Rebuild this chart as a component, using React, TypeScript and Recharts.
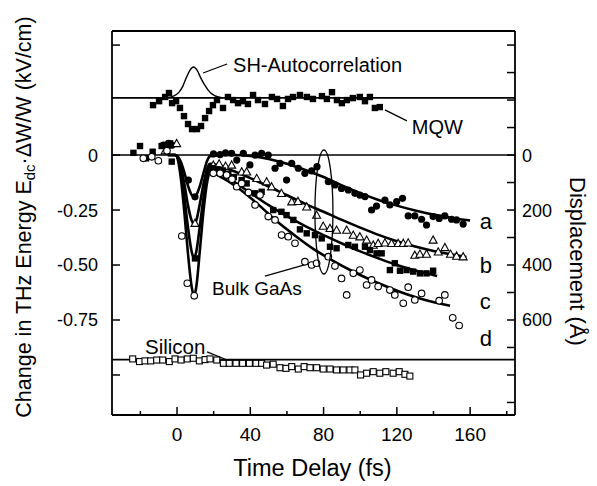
import React from 'react';
import { ComposedChart, Line, Scatter, XAxis, YAxis, ReferenceLine } from 'recharts';

const FONT = '"Liberation Sans", Arial, Helvetica, sans-serif';

// axes
const X_DOMAIN: [number, number] = [-35.5, 184.5];
const Y_DOMAIN: [number, number] = [-1.182, 0.564];
const xTicks = [-20, 0, 20, 40, 60, 80, 100, 120, 140, 160, 180];
const xLabelled = [0, 40, 80, 120, 160];
const leftTicks = [0.5, 0, -0.25, -0.5, -0.75, -1];
const leftLabels: Record<string, string> = { '0': '0', '-0.25': '-0.25', '-0.5': '-0.50', '-0.75': '-0.75' };
const rightTicks = [0.5, 0.375, 0.25, 0.125, 0, -0.125, -0.25, -0.375, -0.5, -0.625, -0.75, -0.875, -1, -1.125];
const rightLabels: Record<string, string> = { '0': '0', '-0.25': '200', '-0.5': '400', '-0.75': '600' };

// baselines of the three panels
const MQW_BASE = 0.26;
const ZERO_BASE = 0;
const SILICON_BASE = -0.93;

// [time (fs), value]
const shAutocorr = [
  [-6, 0.26], [-2, 0.268], [1, 0.285], [3, 0.31], [5, 0.35], [7, 0.385], [9, 0.4],
  [11, 0.385], [13, 0.35], [15, 0.32], [17, 0.295], [19, 0.278], [22, 0.265], [25, 0.26],
];

const mqw = [
  [-13.1, 0.227], [-9.8, 0.245], [-6.5, 0.264], [-4.4, 0.282], [-2.7, 0.236], [-0.5, 0.245],
  [1.6, 0.214], [3.8, 0.177], [6.0, 0.141], [8.2, 0.118], [10.9, 0.118], [13.1, 0.132],
  [15.3, 0.168], [17.5, 0.2], [19.6, 0.227], [21.8, 0.25], [25.1, 0.214], [27.8, 0.264],
  [30.6, 0.25], [33.3, 0.236], [36.0, 0.245], [38.7, 0.232], [41.5, 0.273], [44.2, 0.25],
  [48.0, 0.232], [51.8, 0.264], [54.6, 0.255], [57.8, 0.223], [60.6, 0.255], [63.3, 0.264],
  [67.1, 0.273], [70.9, 0.264], [74.2, 0.255], [79.1, 0.268], [81.8, 0.255], [84.6, 0.286],
  [87.3, 0.25], [90.0, 0.236], [92.7, 0.25], [96.0, 0.259], [99.8, 0.264], [102.6, 0.245],
  [105.3, 0.264], [108.0, 0.214], [110.7, 0.218],
];

// fitted curves a-d
const fitA = [
  [-5, 0], [-1, 0], [2, -0.03], [4, -0.08], [6, -0.14], [8, -0.182], [9.3, -0.19], [10.5, -0.182],
  [12.5, -0.14], [14.5, -0.08], [16.5, -0.025], [18, -0.005], [30, 0], [40, -0.004], [50, -0.018],
  [60, -0.04], [70, -0.068], [80, -0.1], [90, -0.138], [100, -0.173], [110, -0.204], [120, -0.23],
  [130, -0.252], [140, -0.271], [150, -0.286], [160, -0.298],
];
const fitB = [
  [-5, 0], [-1, 0], [2, -0.05], [4, -0.13], [6, -0.23], [8, -0.298], [9.3, -0.314], [10.5, -0.298],
  [12.5, -0.22], [14.5, -0.13], [16.5, -0.06], [18, -0.04], [30, -0.07], [40, -0.105], [50, -0.143],
  [60, -0.183], [70, -0.222], [80, -0.258], [90, -0.295], [100, -0.33], [110, -0.363], [120, -0.392],
  [130, -0.416], [140, -0.436], [150, -0.452], [158, -0.464],
];
const fitC = [
  [-5, 0], [-1, 0], [2, -0.07], [4, -0.19], [6, -0.33], [8, -0.44], [9.3, -0.468], [10.5, -0.44],
  [12.5, -0.32], [14.5, -0.19], [16.5, -0.09], [18, -0.058], [30, -0.115], [40, -0.172], [50, -0.228],
  [60, -0.278], [70, -0.323], [80, -0.364], [90, -0.402], [100, -0.438], [110, -0.47], [120, -0.5],
  [130, -0.525], [142, -0.55],
];
const fitD = [
  [-5, 0], [-1, 0], [2, -0.1], [4, -0.26], [6, -0.45], [8, -0.6], [9.3, -0.641], [10.5, -0.6],
  [12.5, -0.43], [14.5, -0.25], [16.5, -0.12], [18, -0.078], [25, -0.105], [35, -0.16], [45, -0.23],
  [55, -0.305], [65, -0.37], [75, -0.43], [85, -0.48], [95, -0.525], [105, -0.565], [115, -0.6],
  [125, -0.632], [135, -0.658], [149, -0.685],
];

// measured points a-d
const bulkA = [
  [-7.5, 0.045], [-4.7, 0.053], [-2.9, 0.045], [6.2, -0.114], [9.8, -0.19], [19.9, 0.005], [23.5, 0.002],
  [26.5, 0.01], [29.8, 0.008], [32.6, -0.023], [36.2, 0.008], [39.8, -0.045], [42.6, 0], [46.2, 0.008],
  [49.8, 0], [53.5, -0.06], [56.2, -0.038], [59.8, -0.114], [62.6, -0.038], [66.2, -0.06], [69.8, -0.083],
  [73.5, -0.072], [76.4, -0.053], [82.6, -0.121], [86.2, -0.136], [89.8, -0.152], [93.5, -0.159],
  [97.1, -0.174], [99.8, -0.182], [102.6, -0.189], [106.2, -0.25], [108.9, -0.232], [113.5, -0.205],
  [116.2, -0.227], [119.9, -0.212], [123.1, -0.197], [126.2, -0.277], [129.8, -0.277], [133.5, -0.292],
  [136.2, -0.318], [139.8, -0.28], [143.1, -0.288], [146.2, -0.277], [149.9, -0.292], [152.6, -0.295],
  [156.2, -0.314],
];
const bulkB = [
  [-6.5, 0.02], [-0.2, 0.053], [9.8, -0.31], [19.8, -0.045], [23, -0.04], [26.5, -0.05], [29.8, -0.045],
  [35.3, -0.076], [38, -0.076], [43.5, -0.106], [48.9, -0.121], [51.6, -0.144], [57, -0.174],
  [62.6, -0.212], [66, -0.21], [70.8, -0.235], [76.2, -0.273], [79.8, -0.323], [83.5, -0.333],
  [87.1, -0.341], [92.6, -0.341], [96.2, -0.364], [99.8, -0.371], [103.5, -0.386], [107.1, -0.409],
  [109.8, -0.401], [113.5, -0.399], [117.1, -0.401], [120.7, -0.401], [123.5, -0.401], [126.2, -0.399],
  [129.8, -0.455], [132.6, -0.45], [136.2, -0.45], [139.8, -0.386], [142.6, -0.44], [146.2, -0.42],
  [149.3, -0.45], [152.6, -0.459], [156.2, -0.462],
];
const bulkC = [
  [-23.8, 0.01], [-20.2, 0.041], [-16.9, -0.015], [-13.3, 0.015], [-8.4, 0.041], [-3.8, 0.053],
  [-2.9, -0.03], [9.8, -0.47], [19, -0.06], [22, -0.065], [25, -0.07], [28, -0.085], [31, -0.1],
  [35.3, -0.114], [38, -0.129], [42.6, -0.174], [46.2, -0.167], [52.5, -0.25], [57, -0.258],
  [59.8, -0.273], [63.5, -0.295], [67.1, -0.338], [70.8, -0.356], [75.3, -0.364], [79, -0.379],
  [83.5, -0.417], [87.1, -0.424], [93.5, -0.409], [97.1, -0.417], [102.6, -0.417], [105.3, -0.432],
  [108.9, -0.447], [111.7, -0.447], [116.2, -0.523], [118.9, -0.492], [121.7, -0.526], [125.3, -0.523],
  [128.9, -0.53], [132.6, -0.538], [136.2, -0.538], [139.8, -0.526],
];
const bulkD = [
  [-18.4, -0.015], [-13.8, -0.008], [-10.2, -0.026], [-5.5, 0.02], [2.6, -0.368], [5.6, -0.583],
  [9.4, -0.64], [19.8, -0.083], [23.5, -0.083], [27.1, -0.091], [30, -0.11], [32.6, -0.144],
  [35.3, -0.129], [39, -0.17], [42.6, -0.227], [45.3, -0.182], [49.8, -0.28], [53.5, -0.295],
  [57.1, -0.364], [60.7, -0.371], [64.4, -0.401], [69.8, -0.485], [73.5, -0.5], [76.2, -0.492],
  [82.6, -0.462], [86.2, -0.505], [89.8, -0.561], [92.6, -0.636], [96.2, -0.538], [99.8, -0.523],
  [103.5, -0.591], [106.2, -0.568], [109.8, -0.598], [116.2, -0.614], [118.9, -0.636], [123.5, -0.674],
  [126.2, -0.601], [129.8, -0.659], [133.5, -0.629], [143.1, -0.662], [146.2, -0.636], [150.5, -0.74],
  [154, -0.775],
];

const silicon = [
  [-24.2, -0.927], [-20.5, -0.939], [-17.5, -0.936], [-14.4, -0.936], [-11.1, -0.932], [-7.8, -0.932],
  [-4.2, -0.939], [-1.1, -0.927], [2.2, -0.932], [5.6, -0.927], [8.9, -0.924], [12.2, -0.936],
  [15.3, -0.93], [18, -0.927], [21.7, -0.932], [25.3, -0.947], [28.5, -0.947], [32.2, -0.947],
  [35.8, -0.947], [39.5, -0.947], [43.1, -0.947], [46.2, -0.947], [48.9, -0.955], [52.5, -0.951],
  [56.2, -0.967], [59.5, -0.97], [62.6, -0.962], [66.2, -0.973], [69.4, -0.962], [72.6, -0.967],
  [76.2, -0.967], [79.8, -0.973], [83.5, -0.973], [87.1, -0.977], [90.7, -0.977], [94.4, -0.977],
  [97.1, -0.977], [100.2, -1.0], [103.5, -0.992], [107.1, -0.985], [110.7, -0.992], [114, -0.985],
  [118, -0.992], [121.3, -0.985], [124.4, -0.997], [127.1, -1.005],
];

// annotations
const notes = [
  { t: 30.6, v: 0.409, text: 'SH-Autocorrelation', size: 20 },
  { t: 128.2, v: 0.127, text: 'MQW', size: 20 },
  { t: 19.1, v: -0.605, text: 'Bulk GaAs', size: 19 },
  { t: -17.5, v: -0.873, text: 'Silicon', size: 20.5 },
  { t: 165.3, v: -0.3, text: 'a', size: 22 },
  { t: 165.3, v: -0.5, text: 'b', size: 22 },
  { t: 165.3, v: -0.665, text: 'c', size: 22 },
  { t: 165.3, v: -0.83, text: 'd', size: 22 },
];
const leaders = [
  [[14.2, 0.373], [27.3, 0.414]],
  [[113.5, 0.205], [125.5, 0.155]],
  [[48, -0.55], [71.5, -0.495]],
  [[16.4, -0.895], [30, -0.941]],
];
const ellipseAt = [{ t: 80.2, v: -0.259 }];

const pts = (arr: number[][]) => arr.map(([t, v]) => ({ t, v }));

const LeftTick = (p: any) => {
  const { x, y, payload } = p;
  const label = leftLabels[String(payload.value)];
  return (
    <g>
      <line x1={x} x2={x + 8} y1={y} y2={y} stroke="#000" strokeWidth={1.5} />
      {label && (
        <text x={x - 14} y={y} dy="0.36em" textAnchor="end" fontSize={18} fontFamily={FONT} fill="#000">
          {label}
        </text>
      )}
    </g>
  );
};

const RightTick = (p: any) => {
  const { x, y, payload } = p;
  const label = rightLabels[String(payload.value)];
  return (
    <g>
      <line x1={x} x2={x - 8} y1={y} y2={y} stroke="#000" strokeWidth={1.5} />
      {label && (
        <text x={x + 7} y={y} dy="0.36em" textAnchor="start" fontSize={18} fontFamily={FONT} fill="#000">
          {label}
        </text>
      )}
    </g>
  );
};

const BottomTick = (p: any) => {
  const { x, y, payload } = p;
  const major = xLabelled.includes(payload.value);
  return (
    <g>
      <line x1={x} x2={x} y1={y} y2={y - (major ? 8 : 4)} stroke="#000" strokeWidth={1.5} />
      {major && (
        <text x={x} y={y + 26} textAnchor="middle" fontSize={19} fontFamily={FONT} fill="#000">
          {payload.value}
        </text>
      )}
    </g>
  );
};

const LeftTitle = (p: any) => {
  const vb = p.viewBox;
  const cx = vb.x + 24;
  const cy = vb.y + vb.height / 2 - 6;
  return (
    <text x={cx} y={cy} transform={`rotate(-90 ${cx} ${cy})`} textAnchor="middle" dominantBaseline="central"
      fontSize={21.5} fontFamily={FONT} fill="#000">
      Change in THz Energy E<tspan dy={5} fontSize={15}>dc</tspan>
      <tspan dy={-5}>·ΔW/W (kV/cm)</tspan>
    </text>
  );
};

const RightTitle = (p: any) => {
  const vb = p.viewBox;
  const cx = vb.x + 62;
  const cy = vb.y + vb.height * 0.6;
  return (
    <text x={cx} y={cy} transform={`rotate(90 ${cx} ${cy})`} textAnchor="middle" dominantBaseline="central"
      fontSize={22} fontFamily={FONT} fill="#000">
      Displacement (Å)
    </text>
  );
};

const BottomTitle = (p: any) => {
  const vb = p.viewBox;
  return (
    <text x={vb.x + vb.width / 2 - 1} y={vb.y + 61} textAnchor="middle" fontSize={23.5} fontFamily={FONT} fill="#000">
      Time Delay (fs)
    </text>
  );
};

const FilledCircle = (p: any) => <circle cx={p.cx} cy={p.cy} r={3.6} fill="#000" />;
const OpenCircle = (p: any) => <circle cx={p.cx} cy={p.cy} r={3.3} fill="#fff" stroke="#000" strokeWidth={1.1} />;
const OpenTriangle = (p: any) => {
  const s = 4;
  return (
    <polygon
      points={`${p.cx},${p.cy - s} ${p.cx - s},${p.cy + s * 0.8} ${p.cx + s},${p.cy + s * 0.8}`}
      fill="#fff" stroke="#000" strokeWidth={1.1}
    />
  );
};
const FilledSquare = (p: any) => <rect x={p.cx - 3.2} y={p.cy - 3.2} width={6.4} height={6.4} fill="#000" />;
const OpenSquare = (p: any) => (
  <rect x={p.cx - 3} y={p.cy - 3} width={6} height={6} fill="#fff" stroke="#000" strokeWidth={1.1} />
);
const NoteText = (p: any) => (
  <text x={p.cx} y={p.cy} dy="0.36em" fontSize={p.payload.size} fontFamily={FONT} fill="#000">
    {p.payload.text}
  </text>
);
const EllipseMark = (p: any) => (
  <ellipse cx={p.cx} cy={p.cy} rx={9} ry={62} fill="none" stroke="#000" strokeWidth={1.3} />
);

const fitLines = [fitA, fitB, fitC, fitD];

const App = () => {
  return (
    <div style={{ position: 'absolute', left: 0, top: 0, background: '#fff' }}>
      <ComposedChart width={597} height={486} margin={{ top: 31, right: 0, bottom: 0, left: 0 }}>
        <XAxis
          dataKey="t"
          type="number"
          domain={X_DOMAIN}
          allowDataOverflow
          ticks={xTicks}
          height={71}
          tickSize={0}
          tickMargin={0}
          tickLine={false}
          axisLine={{ stroke: '#000', strokeWidth: 1.8 }}
          tick={BottomTick}
          label={<BottomTitle />}
        />
        <YAxis
          yAxisId="left"
          dataKey="v"
          type="number"
          domain={Y_DOMAIN}
          allowDataOverflow
          ticks={leftTicks}
          width={112}
          tickSize={0}
          tickMargin={0}
          tickLine={false}
          axisLine={{ stroke: '#000', strokeWidth: 1.8 }}
          tick={LeftTick}
          label={<LeftTitle />}
        />
        <YAxis
          yAxisId="right"
          orientation="right"
          dataKey="v"
          type="number"
          domain={Y_DOMAIN}
          allowDataOverflow
          ticks={rightTicks}
          width={82}
          tickSize={0}
          tickMargin={0}
          tickLine={false}
          axisLine={{ stroke: '#000', strokeWidth: 1.8 }}
          tick={RightTick}
          label={<RightTitle />}
        />
        <ReferenceLine yAxisId="left" y={Y_DOMAIN[1]} stroke="#000" strokeWidth={2.2} />
        <ReferenceLine yAxisId="left" y={MQW_BASE} stroke="#000" strokeWidth={1.6} />
        <ReferenceLine yAxisId="left" y={ZERO_BASE} stroke="#000" strokeWidth={1.4} />
        <ReferenceLine yAxisId="left" y={SILICON_BASE} stroke="#000" strokeWidth={1.6} />
        {leaders.map((seg, i) => (
          <ReferenceLine
            key={`lead-${i}`}
            yAxisId="left"
            segment={[{ x: seg[0][0], y: seg[0][1] }, { x: seg[1][0], y: seg[1][1] }]}
            stroke="#000"
            strokeWidth={1.3}
          />
        ))}

        <Line yAxisId="left" data={pts(shAutocorr)} dataKey="v" type="monotone" stroke="#000" strokeWidth={1.4}
          dot={false} activeDot={false} isAnimationActive={false} />
        {fitLines.map((f, i) => (
          <Line key={`fit-${i}`} yAxisId="left" data={pts(f)} dataKey="v" type="monotone" stroke="#000"
            strokeWidth={2.6} dot={false} activeDot={false} isAnimationActive={false} />
        ))}

        <Scatter yAxisId="left" data={pts(mqw)} dataKey="v" shape={FilledSquare} isAnimationActive={false} />
        <Scatter yAxisId="left" data={pts(silicon)} dataKey="v" shape={OpenSquare} isAnimationActive={false} />
        <Scatter yAxisId="left" data={pts(bulkA)} dataKey="v" shape={FilledCircle} isAnimationActive={false} />
        <Scatter yAxisId="left" data={pts(bulkB)} dataKey="v" shape={OpenTriangle} isAnimationActive={false} />
        <Scatter yAxisId="left" data={pts(bulkC)} dataKey="v" shape={FilledSquare} isAnimationActive={false} />
        <Scatter yAxisId="left" data={pts(bulkD)} dataKey="v" shape={OpenCircle} isAnimationActive={false} />
        <Scatter yAxisId="left" data={ellipseAt} dataKey="v" shape={EllipseMark} isAnimationActive={false} />
        <Scatter yAxisId="left" data={notes} dataKey="v" shape={NoteText} isAnimationActive={false} />
      </ComposedChart>
    </div>
  );
};

export default App;
